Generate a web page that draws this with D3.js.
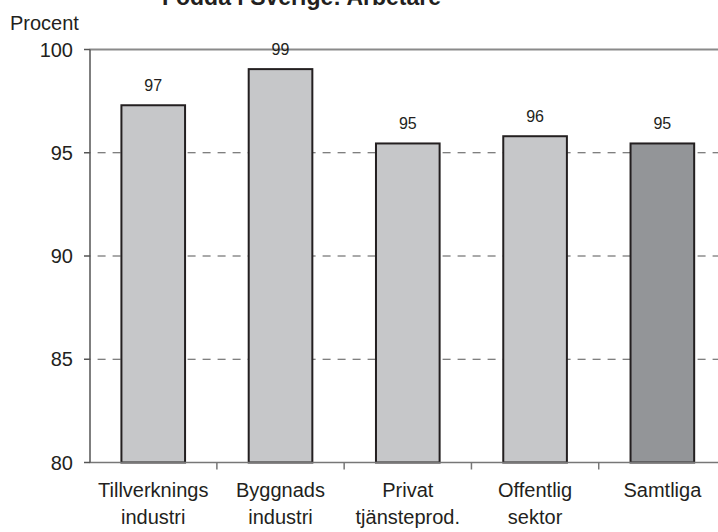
<!DOCTYPE html>
<html>
<head>
<meta charset="utf-8">
<script src="https://cdn.jsdelivr.net/npm/d3@7"></script>
<style>
  body { margin: 0; background: #fff; }
  svg { display: block; font-family: "Liberation Sans", Arial, sans-serif; }
</style>
</head>
<body>
<div id="chart"></div>
<script>
// Chart data
var categories = ["Tillverknings industri", "Byggnads industri", "Privat tjänsteprod.", "Offentlig sektor", "Samtliga"];
var labelLines = [["Tillverknings", "industri"], ["Byggnads", "industri"], ["Privat", "tjänsteprod."], ["Offentlig", "sektor"], ["Samtliga"]];
var values = [97.3, 99.05, 95.45, 95.8, 95.45];
var valueLabels = ["97", "99", "95", "96", "95"];
var yTicks = [80, 85, 90, 95, 100];
var title = "Födda i Sverige: Arbetare";
var yTitle = "Procent";

var width = 718, height = 532;

var svg = d3.select("#chart")
  .append("svg")
  .attr("width", width)
  .attr("height", height);

// Scales
var xScale = d3.scaleBand()
  .domain(categories)
  .range([89.6, 726])
  .paddingInner(0.5)
  .paddingOuter(0.25);

var yScale = d3.scaleLinear()
  .domain([80, 100])
  .range([462.5, 49.5]);

var x0 = xScale.range()[0];

// Gridlines (dashed), top line solid
svg.selectAll(".grid")
  .data(yTicks.filter(function(d) { return d > 80 && d < 100; }))
  .enter().append("line")
  .attr("class", "grid")
  .attr("x1", x0)
  .attr("x2", width)
  .attr("y1", function(d) { return yScale(d); })
  .attr("y2", function(d) { return yScale(d); })
  .attr("stroke", "#555")
  .attr("stroke-width", 1)
  .attr("stroke-dasharray", "8,7")
  .attr("stroke-dashoffset", -8);

svg.append("line")
  .attr("x1", x0)
  .attr("x2", width)
  .attr("y1", yScale(100))
  .attr("y2", yScale(100))
  .attr("stroke", "#8a8a8a")
  .attr("stroke-width", 2);

// Bars
svg.selectAll(".bar")
  .data(values)
  .enter().append("rect")
  .attr("class", "bar")
  .attr("x", function(d, i) { return xScale(categories[i]); })
  .attr("width", xScale.bandwidth())
  .attr("y", function(d) { return yScale(d); })
  .attr("height", function(d) { return yScale(80) - yScale(d); })
  .attr("fill", function(d, i) { return i === categories.length - 1 ? "#939598" : "#c6c7c9"; })
  .attr("stroke", "#231f20")
  .attr("stroke-width", 2);

// Value labels
svg.selectAll(".vlabel")
  .data(values)
  .enter().append("text")
  .attr("class", "vlabel")
  .attr("x", function(d, i) { return xScale(categories[i]) + xScale.bandwidth() / 2; })
  .attr("y", function(d) { return yScale(d) - 14; })
  .attr("text-anchor", "middle")
  .attr("font-size", 16)
  .attr("fill", "#231f20")
  .text(function(d, i) { return valueLabels[i]; });

// X axis line and ticks between categories
svg.append("line")
  .attr("x1", x0)
  .attr("x2", width)
  .attr("y1", yScale(80))
  .attr("y2", yScale(80))
  .attr("stroke", "#777")
  .attr("stroke-width", 1.5);

svg.selectAll(".xtick")
  .data(categories)
  .enter().append("line")
  .attr("class", "xtick")
  .attr("x1", function(d) { return xScale(d) + xScale.bandwidth() + (xScale.step() - xScale.bandwidth()) / 2; })
  .attr("x2", function(d) { return xScale(d) + xScale.bandwidth() + (xScale.step() - xScale.bandwidth()) / 2; })
  .attr("y1", yScale(80))
  .attr("y2", yScale(80) + 7)
  .attr("stroke", "#777")
  .attr("stroke-width", 1.5);

// Category labels
var catText = svg.selectAll(".xlabel")
  .data(labelLines)
  .enter().append("text")
  .attr("class", "xlabel")
  .attr("text-anchor", "middle")
  .attr("font-size", 20)
  .attr("fill", "#231f20");

catText.selectAll("tspan")
  .data(function(d, i) { return d.map(function(t) { return {t: t, i: i}; }); })
  .enter().append("tspan")
  .attr("x", function(d) { return xScale(categories[d.i]) + xScale.bandwidth() / 2; })
  .attr("y", function(d, j) { return 497 + j * 27; })
  .text(function(d) { return d.t; });

// Y axis
svg.append("line")
  .attr("x1", 90)
  .attr("x2", 90)
  .attr("y1", yScale(100))
  .attr("y2", yScale(80))
  .attr("stroke", "#555")
  .attr("stroke-width", 1.5);

svg.selectAll(".ytick")
  .data(yTicks)
  .enter().append("line")
  .attr("class", "ytick")
  .attr("x1", 84)
  .attr("x2", 90)
  .attr("y1", function(d) { return yScale(d); })
  .attr("y2", function(d) { return yScale(d); })
  .attr("stroke", "#555")
  .attr("stroke-width", 1.5);

svg.selectAll(".ylabel")
  .data(yTicks)
  .enter().append("text")
  .attr("class", "ylabel")
  .attr("x", 73)
  .attr("y", function(d) { return yScale(d) + 7; })
  .attr("text-anchor", "end")
  .attr("font-size", 20)
  .attr("fill", "#231f20")
  .text(function(d) { return d; });

// Axis title and chart title (cut at top)
svg.append("text")
  .attr("x", 10)
  .attr("y", 30)
  .attr("font-size", 20)
  .attr("fill", "#231f20")
  .text(yTitle);

svg.append("text")
  .attr("x", 301.5)
  .attr("y", 5)
  .attr("text-anchor", "middle")
  .attr("font-size", 23)
  .attr("font-weight", "bold")
  .attr("fill", "#231f20")
  .text(title);
</script>
</body>
</html>
